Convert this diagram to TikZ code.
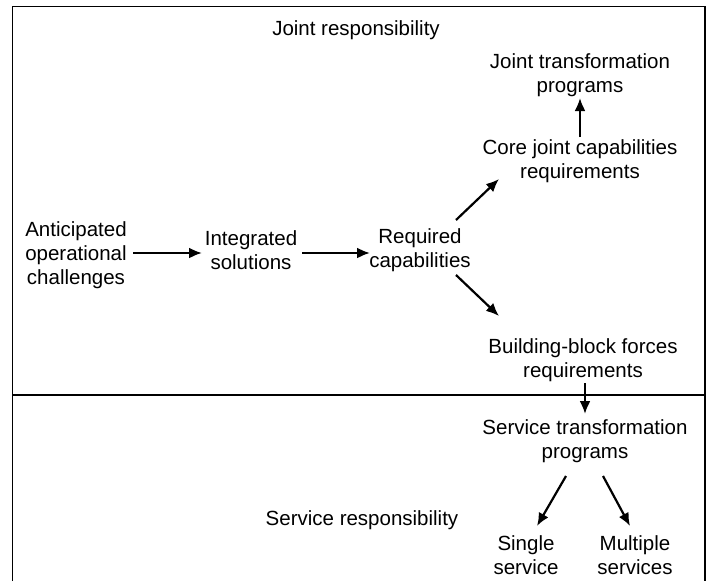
\documentclass[tikz,border=0pt]{standalone}
\usepackage{fontspec}
\setmainfont{Liberation Sans}
\usetikzlibrary{arrows.meta}
\begin{document}
\begin{tikzpicture}[x=1pt,y=-1pt,
  lbl/.style={align=center,font=\fontsize{20.5}{24}\selectfont,inner sep=1pt},
  flow/.style={-{Latex[length=13pt,width=11pt]},line width=2.2pt},
  frame/.style={line width=1.4pt}]
\useasboundingbox (0,0) rectangle (709,581);
% outer frame, open at the bottom, split into two responsibility zones
\draw[frame] (12.7,581) -- (12.7,6.7) -- (705,6.7) -- (705,581);
\draw[frame] (12.7,395) -- (705,395);

\node[lbl] (joint) at (356,30) {Joint responsibility};
\node[lbl] (service) at (362,520) {Service responsibility};

\node[lbl] (jtp) at (580,75) {Joint transformation\\programs};
\node[lbl] (cjc) at (580,161) {Core joint capabilities\\requirements};
\node[lbl] (aoc) at (76,255) {Anticipated\\operational\\challenges};
\node[lbl] (is) at (251,250) {Integrated\\solutions};
\node[lbl] (rc) at (420,250) {Required\\capabilities};
\node[lbl] (bbf) at (583,360) {Building-block forces\\requirements};
\node[lbl] (stp) at (585,441) {Service transformation\\programs};
\node[lbl] (ss) at (526,555) {Single\\service};
\node[lbl] (ms) at (635,555) {Multiple\\services};

% connectors between the named nodes
\coordinate (a1) at (133,253);
\coordinate (a2) at (202,253);
\coordinate (b1) at (302,253);
\coordinate (b2) at (370,253);
\draw[flow] (a1) -- (a2);
\draw[flow] (b1) -- (b2);
\draw[flow] (580,137) -- (580,98);
\draw[flow] (456,220) -- (499,179);
\draw[flow] (456,275) -- (499,316);
\draw[flow] (585,383) -- (585,414);
\draw[flow] (566,476) -- (537,526);
\draw[flow] (603,476) -- (630,526);
\end{tikzpicture}
\end{document}
